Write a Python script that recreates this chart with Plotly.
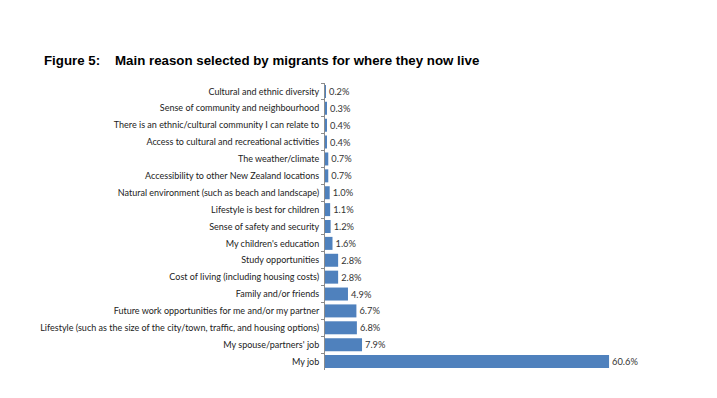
import plotly.graph_objects as go

categories = [
    "Cultural and ethnic diversity",
    "Sense of community and neighbourhood",
    "There is an ethnic/cultural community I can relate to",
    "Access to cultural and recreational activities",
    "The weather/climate",
    "Accessibility to other New Zealand locations",
    "Natural environment (such as beach and landscape)",
    "Lifestyle is best for children",
    "Sense of safety and security",
    "My children's education",
    "Study opportunities",
    "Cost of living (including housing costs)",
    "Family and/or friends",
    "Future work opportunities for me and/or my partner",
    "Lifestyle (such as the size of the city/town, traffic, and housing options)",
    "My spouse/partners' job",
    "My job",
]
values = [0.2, 0.3, 0.4, 0.4, 0.7, 0.7, 1.0, 1.1, 1.2, 1.6, 2.8, 2.8, 4.9, 6.7, 6.8, 7.9, 60.6]
value_labels = [f"{v:.1f}%" for v in values]

# page body has an 8px default margin; compensate
OFF = 8
W, H = 717 - OFF, 398 - OFF
L, R, T, B = 325 - OFF, 17, 83 - OFF, 28

fig = go.Figure(
    go.Bar(
        x=values,
        y=categories,
        orientation="h",
        marker=dict(color="#4F81BD", line=dict(width=0)),
        text=value_labels,
        textposition="outside",
        textfont=dict(family="Lato", size=9.3, color="#333333"),
        cliponaxis=False,
    )
)

fig.update_layout(
    width=W,
    height=H,
    paper_bgcolor="white",
    plot_bgcolor="white",
    margin=dict(l=L, r=R, t=T, b=B),
    bargap=0.23,
    showlegend=False,
    xaxis=dict(range=[0, 80], visible=False, fixedrange=True),
    yaxis=dict(
        autorange="reversed",
        showline=True,
        linecolor="#8C8C8C",
        linewidth=1,
        ticks="outside",
        tickson="boundaries",
        ticklen=3,
        tickcolor="#8C8C8C",
        ticklabelstandoff=3,
        tickfont=dict(family="Lato", size=9, color="#222222"),
        showgrid=False,
        automargin=False,
    ),
)

pw = W - L - R
ph = H - T - B


def px2paper(px, py):
    return (px - OFF - L) / pw, 1 - (py - OFF - T) / ph


x1, y1 = px2paper(42, 60)
x2, y2 = px2paper(113, 60)
fig.add_annotation(text="<b>Figure 5:</b>", x=x1, y=y1, xref="paper", yref="paper",
                   showarrow=False, xanchor="left", yanchor="middle",
                   font=dict(family="Liberation Sans", size=13.3, color="black"))
fig.add_annotation(text="<b>Main reason selected by migrants for where they now live</b>",
                   x=x2, y=y2, xref="paper", yref="paper",
                   showarrow=False, xanchor="left", yanchor="middle",
                   font=dict(family="Liberation Sans", size=13.3, color="black"))

fig.write_html("out.html")
